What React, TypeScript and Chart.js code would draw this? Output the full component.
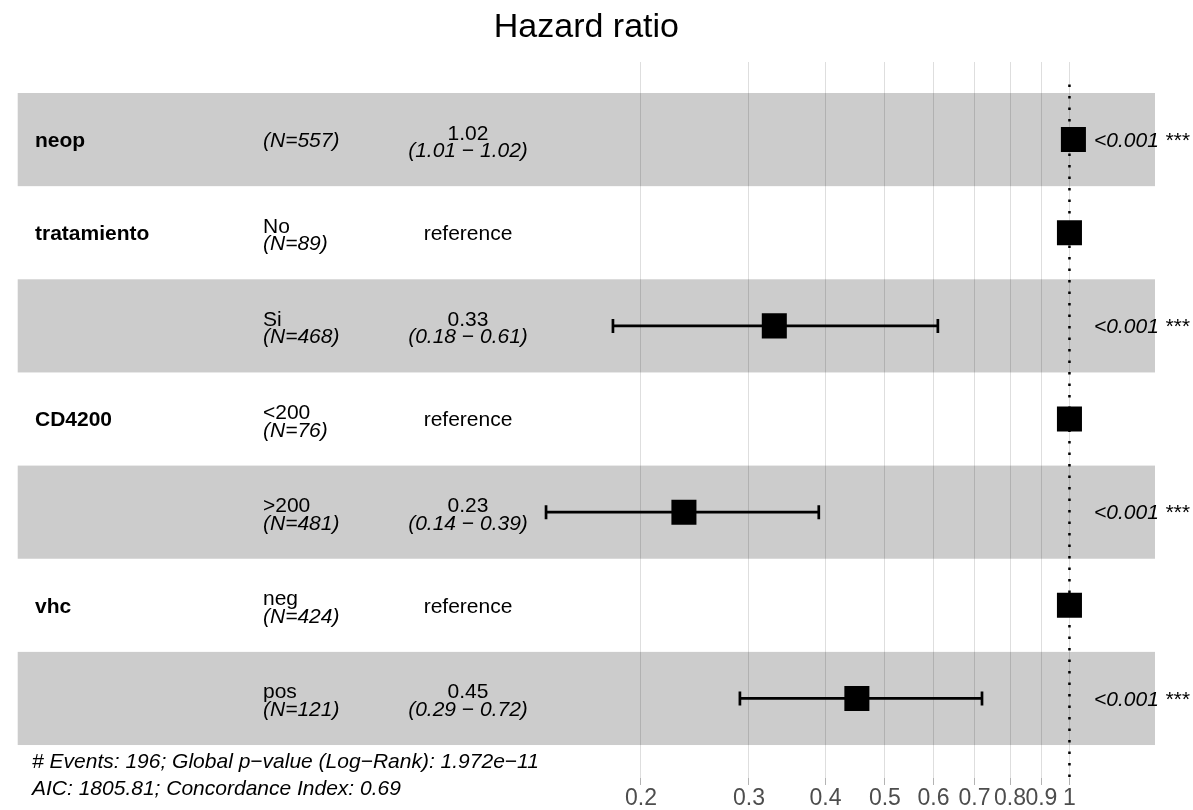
import React, { useEffect, useRef } from "react";
import { Chart, registerables } from "chart.js";

Chart.register(...registerables);

// ---- data ----
const variables = ["neop", "tratamiento", "", "CD4200", "", "vhc", ""];
const levels = ["", "No", "Si", "<200", ">200", "neg", "pos"];
const counts = [557, 89, 468, 76, 481, 424, 121];
const hazardRatios = [1.015, 1, 0.33, 1, 0.235, 1, 0.45];
const ciLow: (number | null)[] = [1.01, null, 0.18, null, 0.14, null, 0.29];
const ciHigh: (number | null)[] = [1.02, null, 0.61, null, 0.39, null, 0.72];
const estimateLabels = ["1.02", "reference", "0.33", "reference", "0.23", "reference", "0.45"];
const ciLabels = ["(1.01 − 1.02)", "", "(0.18 − 0.61)", "", "(0.14 − 0.39)", "", "(0.29 − 0.72)"];
const pLabels = ["<0.001 ***", "", "<0.001 ***", "", "<0.001 ***", "", "<0.001 ***"];
const tickValues = [0.2, 0.3, 0.4, 0.5, 0.6, 0.7, 0.8, 0.9, 1];
const tickLabels = ["0.2", "0.3", "0.4", "0.5", "0.6", "0.7", "0.8", "0.9", "1"];
const referenceValue = 1;
const titleText = "Hazard ratio";
const footnotes = [
  "# Events: 196; Global p−value (Log−Rank): 1.972e−11",
  "AIC: 1805.81; Concordance Index: 0.69",
];

const FONT = "'Liberation Sans', Arial, Helvetica, sans-serif";

const bandsPlugin = {
  id: "bands",
  beforeDraw(chart: any) {
    const { ctx, chartArea, scales } = chart;
    const y = scales.y;
    ctx.save();
    ctx.fillStyle = "#cccccc";
    for (let i = 0; i < variables.length; i += 2) {
      const top = y.getPixelForValue(i - 0.5);
      const bot = y.getPixelForValue(i + 0.5);
      ctx.fillRect(chartArea.left, Math.min(top, bot), chartArea.right - chartArea.left, Math.abs(bot - top));
    }
    ctx.restore();
  },
  beforeDatasetsDraw(chart: any) {
    const { ctx, chartArea, scales } = chart;
    const x = scales.x.getPixelForValue(referenceValue);
    ctx.save();
    ctx.strokeStyle = "#000000";
    ctx.lineWidth = 2.5;
    ctx.setLineDash([2.5, 9]);
    ctx.beginPath();
    ctx.moveTo(x, chartArea.bottom - 1);
    ctx.lineTo(x, chartArea.top + 18);
    ctx.stroke();
    ctx.restore();
  },
  afterDraw(chart: any) {
    const { ctx, scales } = chart;
    const y = scales.y;
    ctx.save();
    ctx.fillStyle = "#000000";
    ctx.textBaseline = "alphabetic";
    const lineGap = 17.5;
    for (let i = 0; i < variables.length; i++) {
      const cy = y.getPixelForValue(i);
      const mid = cy + 7.3;
      if (variables[i]) {
        ctx.font = `bold 21px ${FONT}`;
        ctx.textAlign = "left";
        ctx.fillText(variables[i], 35, mid);
      }
      ctx.textAlign = "left";
      if (levels[i]) {
        ctx.font = `21px ${FONT}`;
        ctx.fillText(levels[i], 263, cy);
        ctx.font = `italic 21px ${FONT}`;
        ctx.fillText(`(N=${counts[i]})`, 263, cy + lineGap);
      } else {
        ctx.font = `italic 21px ${FONT}`;
        ctx.fillText(`(N=${counts[i]})`, 263, mid);
      }
      ctx.textAlign = "center";
      if (ciLabels[i]) {
        ctx.font = `21px ${FONT}`;
        ctx.fillText(estimateLabels[i], 468, cy);
        ctx.font = `italic 21px ${FONT}`;
        ctx.fillText(ciLabels[i], 468, cy + lineGap);
      } else {
        ctx.font = `21px ${FONT}`;
        ctx.fillText(estimateLabels[i], 468, mid);
      }
      if (pLabels[i]) {
        ctx.textAlign = "left";
        ctx.font = `italic 21px ${FONT}`;
        ctx.fillText(pLabels[i], 1094, mid);
      }
    }
    ctx.textAlign = "left";
    ctx.font = `italic 21px ${FONT}`;
    ctx.fillText(footnotes[0], 32, 768);
    ctx.fillText(footnotes[1], 32, 795);
    ctx.restore();
  },
};

export default function App() {
  const canvasRef = useRef<HTMLCanvasElement | null>(null);

  useEffect(() => {
    if (!canvasRef.current) return;
    const rows = variables.map((_, i) => i);

    const errorBarSets = rows
      .filter((i) => ciLow[i] !== null && ciHigh[i] !== null)
      .map((i) => ({
        type: "line" as const,
        data: [
          { x: ciLow[i] as number, y: i },
          { x: ciHigh[i] as number, y: i },
        ],
        showLine: true,
        borderColor: "#000000",
        borderWidth: 2.7,
        pointStyle: "line" as const,
        pointRotation: 90,
        pointRadius: 7,
        pointBorderWidth: 2.7,
        pointBorderColor: "#000000",
        pointHoverRadius: 7,
        order: 2,
      }));

    const chart = new Chart(canvasRef.current, {
      type: "scatter",
      data: {
        datasets: [
          ...errorBarSets,
          {
            type: "scatter" as const,
            data: rows.map((i) => ({ x: hazardRatios[i], y: i })),
            pointStyle: "rect",
            pointRadius: 17.7,
            pointHoverRadius: 17.7,
            backgroundColor: "#000000",
            borderColor: "#000000",
            pointBorderWidth: 0,
            order: 1,
          },
        ] as any,
      },
      options: {
        animation: false,
        responsive: false,
        events: [],
        layout: { padding: { left: 12, right: 38, top: 0, bottom: 0 } },
        plugins: {
          legend: { display: false },
          tooltip: { enabled: false },
          title: {
            display: true,
            text: titleText,
            fullSize: false,
            color: "#000000",
            font: { family: FONT, size: 34, weight: "normal" as any },
            padding: { top: 7, bottom: 14.2 },
          },
        },
        scales: {
          x: {
            type: "logarithmic",
            min: 0.01924,
            max: 1.379,
            bounds: "data",
            position: "bottom",
            afterBuildTicks: (axis: any) => {
              axis.ticks = tickValues.map((v) => ({ value: v }));
            },
            afterFit: (axis: any) => {
              axis.height = 32;
            },
            grid: {
              color: "rgba(0,0,0,0.13)",
              lineWidth: 1,
              drawTicks: true,
              tickLength: 7,
              tickColor: "#b3b3b3",
            },
            border: { display: false },
            ticks: {
              autoSkip: false,
              maxRotation: 0,
              minRotation: 0,
              padding: 0,
              color: "#4d4d4d",
              font: { family: FONT, size: 23 },
              callback: (_v: any, index: number) => tickLabels[index],
            },
          },
          y: {
            type: "linear",
            display: false,
            reverse: true,
            min: -0.833,
            max: 6.854,
          },
        },
      },
      plugins: [bandsPlugin],
    });
    return () => chart.destroy();
  }, []);

  return (
    <div style={{ position: "fixed", left: 0, top: 0, width: 1193, height: 810, background: "#ffffff" }}>
      <canvas ref={canvasRef} width={1193} height={810} style={{ display: "block" }} />
    </div>
  );
}
